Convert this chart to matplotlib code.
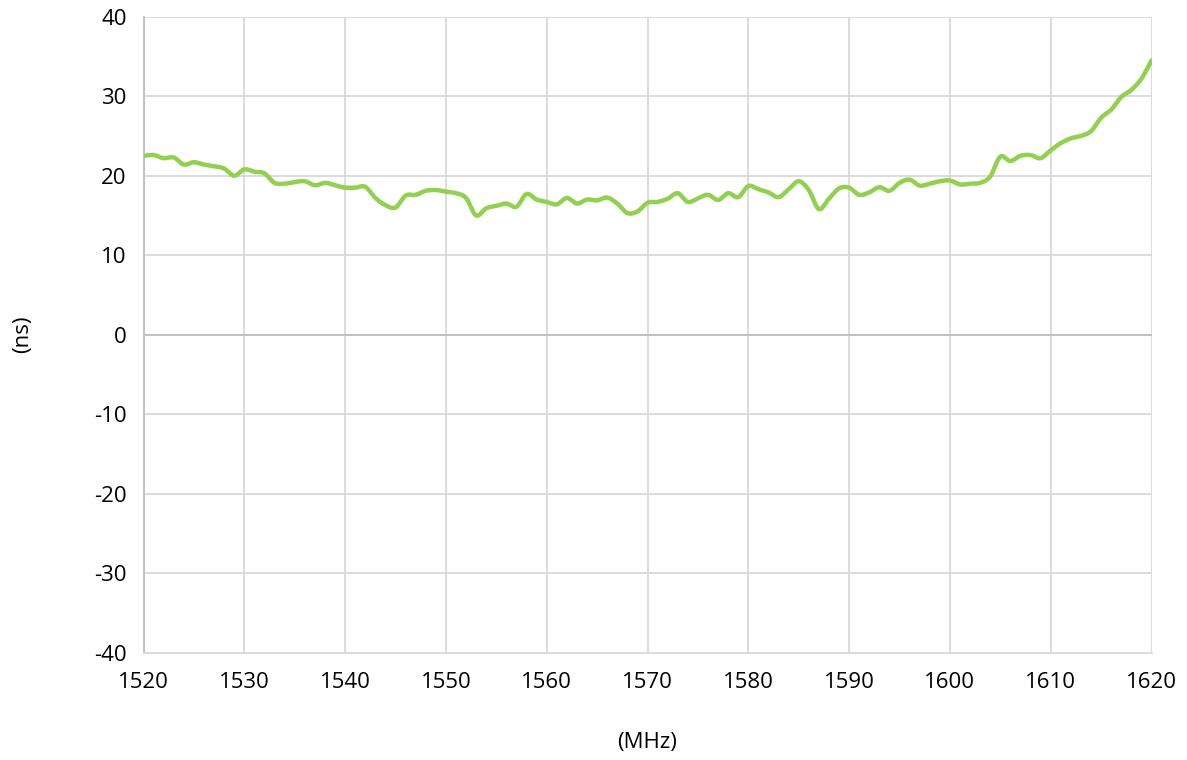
import numpy as np
import matplotlib
matplotlib.use("Agg")
import matplotlib.pyplot as plt

# frequency (MHz) and group delay (ns)
freq_mhz = list(range(1520, 1621))
delay_ns = [
    22.5, 22.6, 22.2, 22.3, 21.4, 21.7, 21.4, 21.2, 20.9, 20.0,
    20.8, 20.5, 20.3, 19.1, 19.0, 19.2, 19.3, 18.8, 19.1, 18.8,
    18.5, 18.5, 18.6, 17.2, 16.3, 16.0, 17.5, 17.6, 18.1, 18.2,
    18.0, 17.8, 17.2, 15.0, 15.9, 16.2, 16.5, 16.1, 17.7, 17.0,
    16.7, 16.4, 17.2, 16.5, 17.0, 16.9, 17.25, 16.5, 15.3, 15.5,
    16.6, 16.7, 17.1, 17.8, 16.7, 17.15, 17.6, 16.95, 17.8, 17.3,
    18.7, 18.3, 17.9, 17.3, 18.3, 19.3, 18.2, 15.8, 17.1, 18.4,
    18.5, 17.6, 17.9, 18.55, 18.1, 19.1, 19.5, 18.75, 19.0, 19.3,
    19.4, 18.9, 19.0, 19.1, 19.9, 22.4, 21.85, 22.5, 22.6, 22.2,
    23.2, 24.1, 24.7, 25.0, 25.6, 27.3, 28.3, 29.9, 30.8, 32.2,
    34.5,
]
x_ticks = list(range(1520, 1621, 10))
y_ticks = list(range(-40, 41, 10))


def smooth(x, y, n=12):
    # Catmull-Rom through the points, like a spreadsheet "smoothed line"
    x = np.asarray(x, float)
    y = np.asarray(y, float)
    px = np.concatenate([[x[0]], x, [x[-1]]])
    py = np.concatenate([[y[0]], y, [y[-1]]])
    xs, ys = [], []
    t = np.linspace(0, 1, n, endpoint=False)
    for i in range(1, len(px) - 2):
        for p, out in ((px, xs), (py, ys)):
            p0, p1, p2, p3 = p[i - 1], p[i], p[i + 1], p[i + 2]
            out.extend(0.5 * ((2 * p1) + (-p0 + p2) * t
                              + (2 * p0 - 5 * p1 + 4 * p2 - p3) * t ** 2
                              + (-p0 + 3 * p1 - 3 * p2 + p3) * t ** 3))
    xs.append(x[-1])
    ys.append(y[-1])
    return np.array(xs), np.array(ys)


plt.rcParams["font.family"] = ["Open Sans", "DejaVu Sans"]
plt.rcParams["axes.unicode_minus"] = False

fig = plt.figure(figsize=(11.87, 7.6), dpi=100)
ax = fig.add_axes([0.1209, 0.1412, 0.8492, 0.8368])

sx, sy = smooth(freq_mhz, delay_ns)
ax.plot(sx, sy, color="#92D050", linewidth=3.2, solid_capstyle="round", zorder=3)

ax.set_xlim(1520, 1620)
ax.set_ylim(-40, 40)
ax.set_xticks(x_ticks)
ax.set_yticks(y_ticks)
ax.grid(True, color="#D9D9D9", linewidth=1.3)
ax.axhline(0, color="#BFBFBF", linewidth=1.3, zorder=2)
ax.set_axisbelow(True)

for side in ("top", "right"):
    ax.spines[side].set_visible(False)
for side in ("left", "bottom"):
    ax.spines[side].set_color("#D9D9D9")
    ax.spines[side].set_linewidth(1.3)
ax.spines["left"].set_color("#BFBFBF")

ax.tick_params(axis="both", length=0, labelsize=16, colors="black")
ax.tick_params(axis="x", pad=14)
ax.tick_params(axis="y", pad=12)

ax.set_xlabel("(MHz)", fontsize=16, labelpad=28)
ax.set_ylabel("(ns)", fontsize=16, labelpad=44)

fig.savefig("out.png", dpi=100)
